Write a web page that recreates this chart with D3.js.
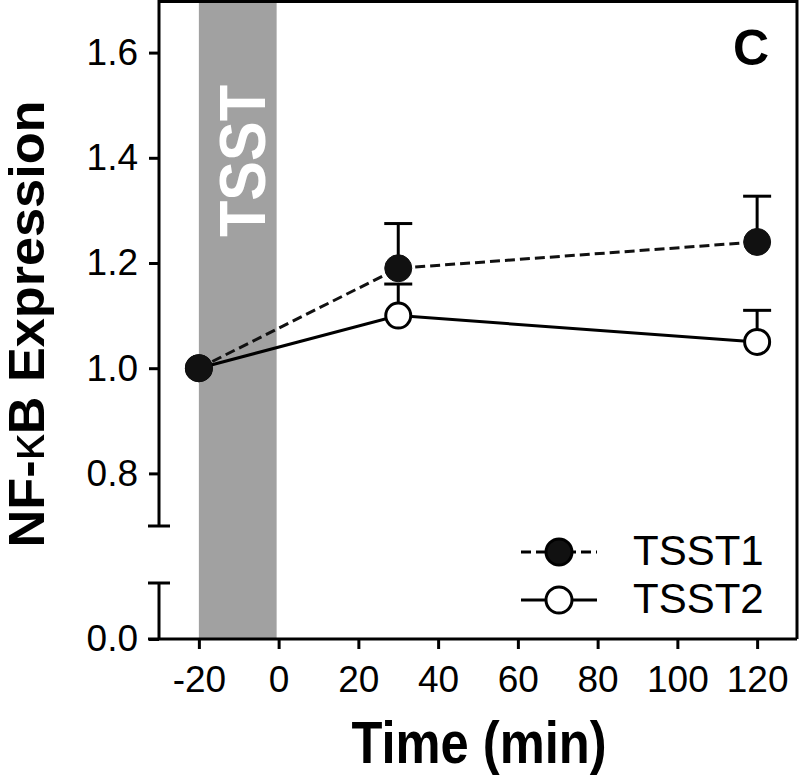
<!DOCTYPE html>
<html>
<head>
  <meta charset="utf-8">
  <script src="https://d3js.org/d3.v7.min.js"></script>
  <style>
    body { margin: 0; background: white; }
    text { font-family: "Liberation Sans", Arial, sans-serif; }
  </style>
</head>
<body>
<script>
// values
var times = [-20, 30, 120];
var tsst1 = [1.0, 1.19, 1.24];
var tsst1Err = [0, 0.085, 0.087];
var tsst2 = [1.0, 1.10, 1.05];
var tsst2Err = [0, 0.06, 0.06];
var xTicks = [-20, 0, 20, 40, 60, 80, 100, 120];
var yTicksUpper = [0.8, 1.0, 1.2, 1.4, 1.6];
var yTicksLower = [0.0];
var band = [-20, -0.5];
var seriesNames = ["TSST1", "TSST2"];

var width = 800, height = 775;
var svg = d3.select("body").append("svg")
  .attr("width", width)
  .attr("height", height);

var x = d3.scaleLinear().domain([-30, 130]).range([159, 797]);
var yUp = d3.scaleLinear().domain([0.7, 1.7]).range([526, 0]);
var yLow = d3.scaleLinear().domain([0, 0.1]).range([639, 583]);

// grey TSST period
svg.append("rect")
  .attr("x", x(band[0]))
  .attr("y", yUp(1.7))
  .attr("width", x(band[1]) - x(band[0]))
  .attr("height", yLow(0) - yUp(1.7))
  .attr("fill", "#a1a1a1");

svg.append("text")
  .attr("transform", "translate(" + 265 + "," + 161 + ") rotate(-90)")
  .attr("text-anchor", "middle")
  .attr("textLength", 152)
  .attr("lengthAdjust", "spacingAndGlyphs")
  .style("font-size", "64px")
  .style("font-weight", "bold")
  .style("fill", "white")
  .text("TSST");

// axes
var axisStroke = 3;
var hyphenFmt = function (d) { return String(d); };
var xAxis = d3.axisBottom(x).tickValues(xTicks).tickSize(10).tickSizeOuter(0).tickFormat(hyphenFmt);
var gx = svg.append("g").attr("transform", "translate(0," + yLow(0) + ")").call(xAxis);
gx.select(".domain").remove();
gx.append("line").attr("x1", 148).attr("x2", 797).attr("stroke", "black").attr("stroke-width", axisStroke);

var yAxisUp = d3.axisLeft(yUp).tickValues(yTicksUpper).tickSize(10).tickSizeOuter(0).tickFormat(d3.format(".1f"));
var gyu = svg.append("g").attr("transform", "translate(159,0)").call(yAxisUp);
gyu.select(".domain").remove();
gyu.append("line").attr("y1", yUp(1.7)).attr("y2", yUp(0.7)).attr("stroke", "black").attr("stroke-width", axisStroke);
gyu.append("line").attr("x1", -11).attr("x2", 11).attr("y1", yUp(0.7)).attr("y2", yUp(0.7)).attr("stroke", "black").attr("stroke-width", axisStroke);

var yAxisLow = d3.axisLeft(yLow).tickValues(yTicksLower).tickSize(10).tickSizeOuter(0).tickFormat(d3.format(".1f"));
var gyl = svg.append("g").attr("transform", "translate(159,0)").call(yAxisLow);
gyl.select(".domain").remove();
gyl.append("line").attr("y1", yLow(0.1)).attr("y2", yLow(0)).attr("stroke", "black").attr("stroke-width", axisStroke);
gyl.append("line").attr("x1", -11).attr("x2", 11).attr("y1", yLow(0.1)).attr("y2", yLow(0.1)).attr("stroke", "black").attr("stroke-width", axisStroke);

svg.selectAll(".tick line").attr("stroke", "black").attr("stroke-width", axisStroke);
svg.selectAll(".tick text")
  .style("font-size", "37px")
  .style("font-family", "'Liberation Sans', Arial, sans-serif")
  .attr("fill", "black");
gx.selectAll(".tick text").attr("y", 27).attr("dy", "0.71em");
gyu.selectAll(".tick text").attr("x", -21);
gyl.selectAll(".tick text").attr("x", -21);

// frame (top and right)
svg.append("path")
  .attr("d", "M" + x(-30) + "," + 1.5 + "H" + 797 + "V" + yLow(0))
  .attr("fill", "none")
  .attr("stroke", "black")
  .attr("stroke-width", axisStroke);

// axis titles
svg.append("text")
  .attr("transform", "translate(44," + 324 + ") rotate(-90)")
  .attr("text-anchor", "middle")
  .attr("textLength", 447)
  .attr("lengthAdjust", "spacingAndGlyphs")
  .style("font-size", "50px")
  .style("font-weight", "bold")
  .call(function (t) {
    t.append("tspan").text("NF-");
    t.append("tspan").style("font-weight", "normal").text("\u03ba");
    t.append("tspan").text("B Expression");
  });

svg.append("text")
  .attr("x", 479)
  .attr("y", 763)
  .attr("text-anchor", "middle")
  .attr("textLength", 255)
  .attr("lengthAdjust", "spacingAndGlyphs")
  .style("font-size", "59px")
  .style("font-weight", "bold")
  .text("Time (min)");

svg.append("text")
  .attr("x", 733)
  .attr("y", 65)
  .style("font-size", "50px")
  .style("font-weight", "bold")
  .text("C");

// series
var r = 12.5;
function seriesData(vals, errs) {
  return times.map(function (t, i) { return {t: t, v: vals[i], e: errs[i]}; });
}
var s1 = seriesData(tsst1, tsst1Err);
var s2 = seriesData(tsst2, tsst2Err);
var line = d3.line().x(function (d) { return x(d.t); }).y(function (d) { return yUp(d.v); });

function drawErr(data) {
  var g = svg.append("g").attr("stroke", "black").attr("stroke-width", 3);
  data.filter(function (d) { return d.e > 0; }).forEach(function (d) {
    g.append("line").attr("x1", x(d.t)).attr("x2", x(d.t))
      .attr("y1", yUp(d.v)).attr("y2", yUp(d.v + d.e));
    g.append("line").attr("x1", x(d.t) - 14).attr("x2", x(d.t) + 14)
      .attr("y1", yUp(d.v + d.e)).attr("y2", yUp(d.v + d.e));
  });
}

// TSST2 - open circles, solid line
drawErr(s2);
svg.append("path").datum(s2).attr("d", line)
  .attr("fill", "none").attr("stroke", "black").attr("stroke-width", 3);
svg.selectAll(".m2").data(s2).enter().append("circle")
  .attr("cx", function (d) { return x(d.t); })
  .attr("cy", function (d) { return yUp(d.v); })
  .attr("r", r).attr("fill", "white").attr("stroke", "black").attr("stroke-width", 3);

// TSST1 - filled circles, dashed line
drawErr(s1);
svg.append("path").datum(s1).attr("d", line)
  .attr("fill", "none").attr("stroke", "#111").attr("stroke-width", 3)
  .attr("stroke-dasharray", "10,5");
svg.selectAll(".m1").data(s1).enter().append("circle")
  .attr("cx", function (d) { return x(d.t); })
  .attr("cy", function (d) { return yUp(d.v); })
  .attr("r", r + 1).attr("fill", "#111").attr("stroke", "#111").attr("stroke-width", 1);

// legend
var legendRows = [
  {name: seriesNames[0], y: 552, dash: "10,5", fill: "#111"},
  {name: seriesNames[1], y: 600, dash: null, fill: "white"}
];
legendRows.forEach(function (row) {
  svg.append("line").attr("x1", 521).attr("x2", 597).attr("y1", row.y).attr("y2", row.y)
    .attr("stroke", "black").attr("stroke-width", 3)
    .attr("stroke-dasharray", row.dash);
  svg.append("circle").attr("cx", 559).attr("cy", row.y).attr("r", r + 0.5)
    .attr("fill", row.fill).attr("stroke", "black").attr("stroke-width", 3);
  svg.append("text").attr("x", 633).attr("y", row.y + 13)
    .style("font-size", "42px").text(row.name);
});
</script>
</body>
</html>
